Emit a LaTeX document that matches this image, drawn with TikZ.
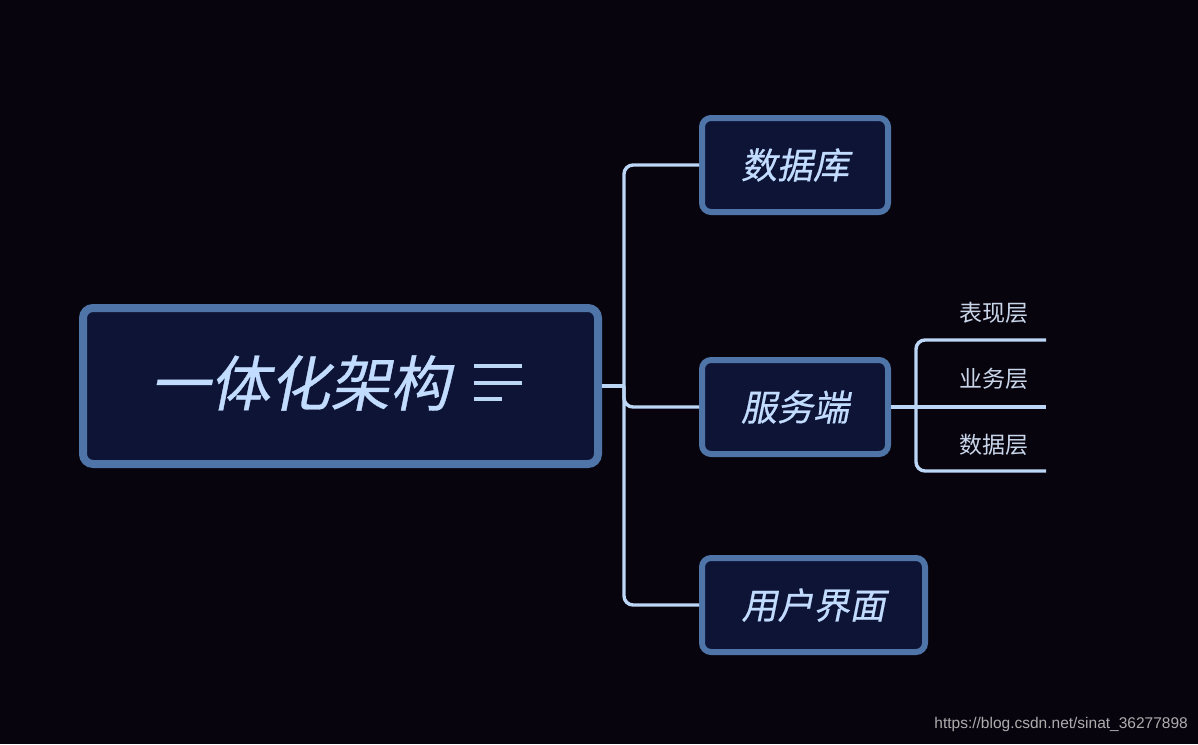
\documentclass[tikz,border=0pt]{standalone}
\usepackage{fontspec}
\setmainfont{Liberation Sans}
\newfontfamily\cjkit[FakeSlant=0.2, FakeBold=0.6]{Noto Sans CJK SC}
\newfontfamily\cjk{Noto Sans CJK SC}
\usetikzlibrary{positioning, calc}
\definecolor{nightbg}{HTML}{08040E}
\definecolor{boxfill}{HTML}{0E1436}
\definecolor{boxedge}{HTML}{4E74A8}
\definecolor{linkblue}{HTML}{BCD6F5}
\definecolor{textblue}{HTML}{C2DCFF}
\definecolor{subtext}{HTML}{C9D6EA}

\begin{document}
\begin{tikzpicture}[x=1pt, y=-1pt,
      root/.style={rectangle, draw=boxedge, fill=boxfill, line width=8pt, rounded corners=10pt,
                   minimum width=515pt, minimum height=156pt},
      topic/.style={rectangle, draw=boxedge, fill=boxfill, line width=6pt, rounded corners=9pt,
                    minimum height=94pt, text=textblue, font=\cjkit\fontsize{36}{40}\selectfont},
      layer/.style={text=subtext, font=\cjk\fontsize{23}{26}\selectfont, inner sep=0pt},
      link/.style={linkblue, line width=3.4pt, rounded corners=9pt},
    ]
    \fill[nightbg] (0,0) rectangle (1198,744);
    \useasboundingbox (0,0) rectangle (1198,744);

    % central topic
    \node[root] (arch) at (340.5,386) {};
    \node[text=textblue, font=\cjkit\fontsize{60}{64}\selectfont, inner sep=0pt] (archtext) at (300,383) {一体化架构};
    \draw[linkblue, line width=3.4pt] ($(archtext.east)+(24,-17)$) -- ++(48,0)
                                      ($(archtext.east)+(24,0)$) -- ++(48,0)
                                      ($(archtext.east)+(24,16)$) -- ++(28,0);

    % main branches
    \node[topic, minimum width=186pt] (db) at (795,165) {数据库};
    \node[topic, minimum width=186pt] (srv) at (795,407) {服务端};
    \node[topic, minimum width=223pt] (ui) at (813.5,605) {用户界面};

    \draw[link] (arch.east) -- ++(22,0) coordinate (fork);
    \draw[link] (fork) |- (db.west);
    \draw[link] (fork) |- (srv.west);
    \draw[link] (fork) |- (ui.west);

    % server layers
    \node[layer] (pres) at (994,313) {表现层};
    \node[layer] (biz) at (994,379) {业务层};
    \node[layer] (data) at (994,445) {数据层};
    \coordinate (presend) at (1046,340);
    \coordinate (bizend) at (1046,407);
    \coordinate (dataend) at (1046,471);

    \draw[link] (srv.east) -- ++(25,0) coordinate (subfork) -- (bizend);
    \draw[link] (subfork) |- (presend);
    \draw[link] (subfork) |- (dataend);

    \node[text=black!32, font=\fontsize{15.5}{18}\selectfont, anchor=east, inner sep=0pt] (mark) at (1188,724) {https://blog.csdn.net/sinat\_36277898};
  \end{tikzpicture}
\end{document}
